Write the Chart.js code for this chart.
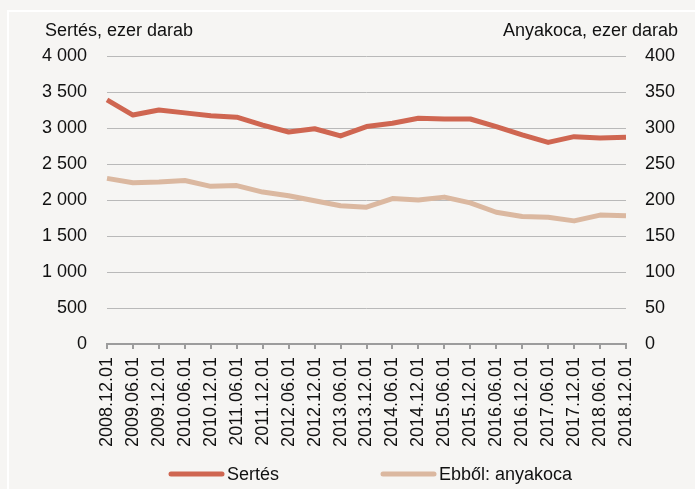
<!DOCTYPE html>
<html>
<head>
<meta charset="utf-8">
<script src="https://cdn.jsdelivr.net/npm/chart.js@4/dist/chart.umd.min.js"></script>
<style>
  html, body { margin: 0; padding: 0; background: #f6f5f3; }
  #wrap { position: relative; width: 695px; height: 489px; }
</style>
</head>
<body>
<div id="wrap"><canvas id="chart" width="695" height="489"></canvas></div>
<script>
const labels = ['2008.12.01', '2009.06.01', '2009.12.01', '2010.06.01', '2010.12.01', '2011.06.01',
  '2011.12.01', '2012.06.01', '2012.12.01', '2013.06.01', '2013.12.01', '2014.06.01', '2014.12.01',
  '2015.06.01', '2015.12.01', '2016.06.01', '2016.12.01', '2017.06.01', '2017.12.01', '2018.06.01',
  '2018.12.01'];
const sertes = [3390, 3180, 3250, 3210, 3170, 3150, 3040, 2945, 2990, 2890, 3020, 3065, 3135,
  3125, 3125, 3020, 2905, 2800, 2880, 2860, 2870];
const anyakoca = [230, 224, 225, 227, 219, 220, 211, 206, 199, 192, 190, 202, 200, 204, 196,
  183, 177, 176, 171, 179, 178];
const leftTitle = 'Sertés, ezer darab';
const rightTitle = 'Anyakoca, ezer darab';
const seriesNames = ['Sertés', 'Ebből: anyakoca'];

const FONT = '"Liberation Sans", Arial, sans-serif';
const FS = 18;
const RED = '#cf6651';
const SAND = '#dbb8a0';

const fmt = v => String(v).replace(/\B(?=(\d{3})+(?!\d))/g, ' ');

// background panel, axis titles and legend
const decor = {
  id: 'decor',
  beforeDraw(chart) {
    const ctx = chart.ctx;
    ctx.save();
    ctx.fillStyle = '#f6f5f3';
    ctx.fillRect(0, 0, chart.width, chart.height);
    ctx.fillStyle = '#ffffff';
    ctx.fillRect(7, 10, chart.width - 7, 2);
    ctx.fillRect(7, 10, 2, chart.height - 10);
    ctx.restore();
  },
  afterDraw(chart) {
    const ctx = chart.ctx;
    ctx.save();
    ctx.font = FS + 'px ' + FONT;
    ctx.fillStyle = '#111';
    ctx.textBaseline = 'alphabetic';
    ctx.textAlign = 'left';
    ctx.fillText(leftTitle, 45, 36);
    ctx.textAlign = 'right';
    ctx.fillText(rightTitle, 678, 36);

    // legend
    const items = [
      { x: 169, text: chart.data.datasets[0].label, color: chart.data.datasets[0].borderColor },
      { x: 381, text: chart.data.datasets[1].label, color: chart.data.datasets[1].borderColor }
    ];
    ctx.textAlign = 'left';
    ctx.textBaseline = 'middle';
    items.forEach(it => {
      ctx.strokeStyle = it.color;
      ctx.lineWidth = 5;
      ctx.lineCap = 'round';
      ctx.beginPath();
      ctx.moveTo(it.x + 2, 474);
      ctx.lineTo(it.x + 53, 474);
      ctx.stroke();
      ctx.fillStyle = '#111';
      ctx.fillText(it.text, it.x + 58, 475);
    });
    ctx.restore();
  }
};

new Chart(document.getElementById('chart'), {
  type: 'line',
  data: {
    labels: labels,
    datasets: [
      {
        label: seriesNames[0],
        data: sertes,
        yAxisID: 'y',
        borderColor: RED,
        backgroundColor: RED,
        borderWidth: 5,
        pointRadius: 0,
        borderJoinStyle: 'round',
        tension: 0
      },
      {
        label: seriesNames[1],
        data: anyakoca,
        yAxisID: 'y1',
        borderColor: SAND,
        backgroundColor: SAND,
        borderWidth: 5,
        pointRadius: 0,
        borderJoinStyle: 'round',
        tension: 0
      }
    ]
  },
  options: {
    responsive: false,
    animation: false,
    maintainAspectRatio: false,
    layout: { padding: { left: 0, right: 0, top: 56, bottom: 0 } },
    plugins: {
      legend: { display: false },
      tooltip: { enabled: false }
    },
    scales: {
      x: {
        offset: false,
        afterFit(scale) { scale.height = 145; },
        border: { display: true, color: '#9c9c9c', width: 2 },
        grid: { display: true, drawOnChartArea: false, drawTicks: true, tickLength: 5, color: '#9c9c9c', lineWidth: 2 },
        ticks: {
          autoSkip: false,
          maxRotation: 90,
          minRotation: 90,
          padding: 8,
          color: '#111',
          font: { family: FONT, size: FS }
        }
      },
      y: {
        position: 'left',
        min: 0,
        max: 4000,
        afterFit(scale) { scale.width = 107; },
        border: { display: false },
        grid: { color: '#b9b9b9', lineWidth: 1, drawTicks: false },
        ticks: {
          stepSize: 500,
          padding: 20,
          color: '#111',
          font: { family: FONT, size: FS },
          callback: v => fmt(v)
        }
      },
      y1: {
        position: 'right',
        min: 0,
        max: 400,
        afterFit(scale) { scale.width = 69; },
        border: { display: false },
        grid: { drawOnChartArea: false, drawTicks: false },
        ticks: {
          stepSize: 50,
          padding: 19,
          color: '#111',
          font: { family: FONT, size: FS }
        }
      }
    }
  },
  plugins: [decor]
});
</script>
</body>
</html>
